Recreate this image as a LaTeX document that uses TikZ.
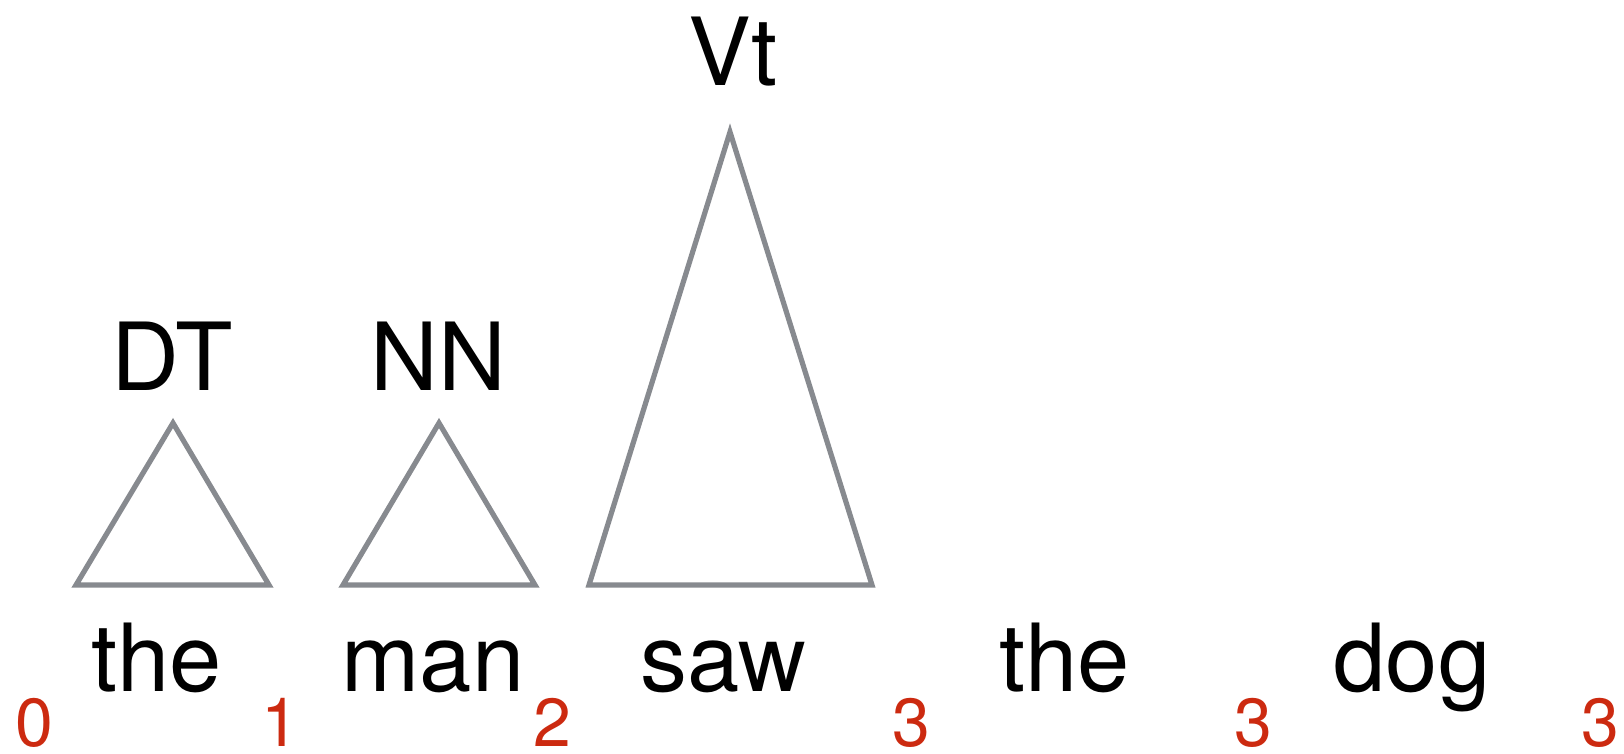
\documentclass[tikz,border=0pt]{standalone}
\usepackage{fontspec}
\setmainfont{TeX Gyre Heros}
\definecolor{tri}{RGB}{135,138,143}
\definecolor{idx}{RGB}{204,42,16}
\begin{document}
\begin{tikzpicture}[x=0.5pt,y=-0.5pt,
  word/.style={anchor=base,inner sep=0pt,font=\fontsize{47}{50}\selectfont},
  lab/.style={anchor=base,inner sep=0pt,font=\fontsize{47}{50}\selectfont},
  num/.style={anchor=base,inner sep=0pt,text=idx,font=\fontsize{34}{36}\selectfont},
  trig/.style={draw=tri,line width=2.6pt,line join=miter}]
\useasboundingbox (0,0) rectangle (1624,754);
% triangles
\draw[trig] (173,423) -- (269,585) -- (76,585) -- cycle;
\draw[trig] (439,423) -- (535,585) -- (343,585) -- cycle;
\draw[trig] (730,132) -- (872,585) -- (589,585) -- cycle;
% labels
\node[lab] (dt) at (172,391) {DT};
\node[lab] (nn) at (438,391) {NN};
\node[lab] (vt) at (733,86) {Vt};
% words
\node[word] (w1) at (157,691) {the};
\node[word] (w2) at (433,691) {man};
\node[word] (w3) at (723,691) {saw};
\node[word] (w4) at (1065,691) {the};
\node[word] (w5) at (1412,691) {dog};
% indices
\node[num] (n0) at (34,746) {0};
\node[num] (n1) at (280,746) {1};
\node[num] (n2) at (552,746) {2};
\node[num] (n3) at (911,746) {3};
\node[num] (n4) at (1253,746) {3};
\node[num] (n5) at (1600,746) {3};
\end{tikzpicture}
\end{document}
